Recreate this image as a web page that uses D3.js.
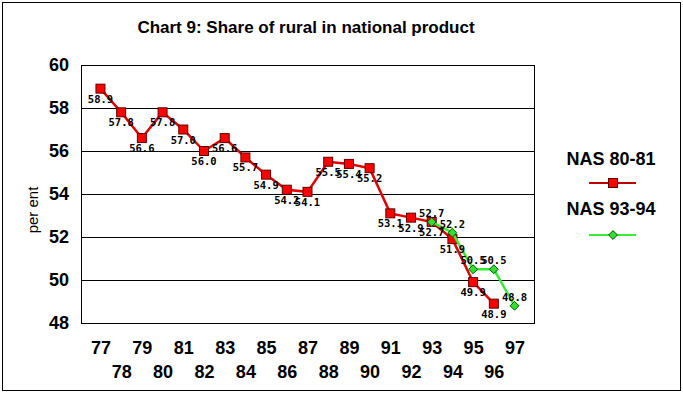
<!DOCTYPE html>
<html>
<head>
<meta charset="utf-8">
<script src="https://cdn.jsdelivr.net/npm/d3@7"></script>
<style>
  body { margin: 0; background: #fff; }
  text { font-family: "Liberation Sans", Arial, sans-serif; }
  text.lab { font-family: "DejaVu Sans Mono", monospace; }
</style>
</head>
<body>
<div id="the_chart"></div>
<script>
// years shown on the x axis (two-digit)
var years = ["77", "78", "79", "80", "81", "82", "83", "84", "85", "86", "87",
             "88", "89", "90", "91", "92", "93", "94", "95", "96", "97"];

// NAS 80-81 series, 1977 to 1996
var nas8081Years = ["77", "78", "79", "80", "81", "82", "83", "84", "85", "86",
                    "87", "88", "89", "90", "91", "92", "93", "94", "95", "96"];
var nas8081 = [58.9, 57.8, 56.6, 57.8, 57.0, 56.0, 56.6, 55.7, 54.9, 54.2,
               54.1, 55.5, 55.4, 55.2, 53.1, 52.9, 52.7, 51.9, 49.9, 48.9];

// NAS 93-94 series, 1993 to 1997
var nas9394Years = ["93", "94", "95", "96", "97"];
var nas9394 = [52.7, 52.2, 50.5, 50.5, 48.8];

var yTicks = [48, 50, 52, 54, 56, 58, 60];
var seriesNames = ["NAS 80-81", "NAS 93-94"];

var w = 683;
var h = 393;
var pLeft = 81, pRight = 534, pTop = 65, pBottom = 323;

var svg = d3.select("#the_chart")
    .append("svg")
    .attr("width", w)
    .attr("height", h);

svg.append("rect")
    .attr("x", 2.5).attr("y", 2.5)
    .attr("width", w - 5).attr("height", h - 5)
    .attr("fill", "#fff")
    .attr("stroke", "#000");

svg.append("text")
    .attr("x", 306)
    .attr("y", 33)
    .attr("text-anchor", "middle")
    .attr("font-size", 17)
    .attr("font-weight", "bold")
    .text("Chart 9: Share of rural in national product");

var xscale = d3.scalePoint()
    .domain(years)
    .range([pLeft, pRight])
    .padding(0.94);

var yscale = d3.scaleLinear()
    .domain([48, 60])
    .range([pBottom, pTop]);

// gridlines + y labels
var gY = svg.append("g")
    .attr("transform", "translate(" + pLeft + ",0)")
    .call(d3.axisLeft(yscale)
        .tickValues(yTicks)
        .tickSize(-(pRight - pLeft))
        .tickPadding(12)
        .tickFormat(d3.format("d")));
gY.select(".domain").remove();
gY.selectAll("line").attr("stroke", "#000");
gY.selectAll("text")
    .attr("font-size", 18)
    .attr("font-weight", "bold")
    .attr("fill", "#000");

svg.append("rect")
    .attr("x", pLeft + 0.5).attr("y", pTop + 0.5)
    .attr("width", pRight - pLeft).attr("height", pBottom - pTop)
    .attr("fill", "none")
    .attr("stroke", "#000");

// x labels, staggered over two rows
var gX = svg.append("g")
    .attr("transform", "translate(0," + pBottom + ")")
    .call(d3.axisBottom(xscale).tickSize(0).tickPadding(0));
gX.select(".domain").remove();
gX.selectAll("text")
    .attr("font-size", 18)
    .attr("font-weight", "bold")
    .attr("fill", "#000")
    .attr("dy", null)
    .attr("y", function (d, i) {
        return i % 2 == 0 ? 31 : 55;
    });

svg.append("text")
    .attr("transform", "translate(38,210) rotate(-90)")
    .attr("text-anchor", "middle")
    .attr("font-size", 15)
    .text("per ent");

var line = d3.line()
    .x(function (d) { return xscale(d.year); })
    .y(function (d) { return yscale(d.value); });

var red = nas8081.map(function (v, i) { return { year: nas8081Years[i], value: v }; });
var green = nas9394.map(function (v, i) { return { year: nas9394Years[i], value: v }; });

svg.append("path")
    .datum(red)
    .attr("d", line)
    .attr("fill", "none")
    .attr("stroke", "#e00000")
    .attr("stroke-width", 2.5);

svg.selectAll("rect.red")
    .data(red)
    .enter().append("rect")
    .attr("class", "red")
    .attr("x", function (d) { return xscale(d.year) - 4.5; })
    .attr("y", function (d) { return yscale(d.value) - 4.5; })
    .attr("width", 9)
    .attr("height", 9)
    .attr("fill", "#ff0000")
    .attr("stroke", "#600000");

svg.append("path")
    .datum(green)
    .attr("d", line)
    .attr("fill", "none")
    .attr("stroke", "#33ee33")
    .attr("stroke-width", 2.5);

var diamond = d3.symbol().type(d3.symbolDiamond2).size(50);

svg.selectAll("path.green")
    .data(green)
    .enter().append("path")
    .attr("class", "green")
    .attr("d", diamond)
    .attr("transform", function (d) {
        return "translate(" + xscale(d.year) + "," + yscale(d.value) + ")";
    })
    .attr("fill", "#33dd33")
    .attr("stroke", "#005500");

svg.selectAll("text.redlab")
    .data(red)
    .enter().append("text")
    .attr("class", "lab redlab")
    .attr("x", function (d) { return xscale(d.year); })
    .attr("y", function (d) { return yscale(d.value) + 14; })
    .attr("text-anchor", "middle")
    .attr("font-size", 10.5)
    .attr("font-weight", "bold")
    .text(function (d) { return d.value.toFixed(1); });

svg.selectAll("text.greenlab")
    .data(green)
    .enter().append("text")
    .attr("class", "lab greenlab")
    .attr("x", function (d) { return xscale(d.year); })
    .attr("y", function (d) { return yscale(d.value) - 5; })
    .attr("text-anchor", "middle")
    .attr("font-size", 10.5)
    .attr("font-weight", "bold")
    .text(function (d) { return d.value.toFixed(1); });

// legend
var lg = svg.append("g");
lg.selectAll("text")
    .data(seriesNames)
    .enter().append("text")
    .attr("x", 611)
    .attr("y", function (d, i) { return 165 + i * 50; })
    .attr("text-anchor", "middle")
    .attr("font-size", 18)
    .attr("font-weight", "bold")
    .text(function (d) { return d; });

lg.append("line")
    .attr("x1", 589).attr("x2", 636)
    .attr("y1", 183).attr("y2", 183)
    .attr("stroke", "#c00000").attr("stroke-width", 2);
lg.append("rect")
    .attr("x", 608.5).attr("y", 178.5)
    .attr("width", 9).attr("height", 9)
    .attr("fill", "#ff0000").attr("stroke", "#600000");
lg.append("line")
    .attr("x1", 589).attr("x2", 636)
    .attr("y1", 235).attr("y2", 235)
    .attr("stroke", "#33ee33").attr("stroke-width", 2);
lg.append("path")
    .attr("d", diamond)
    .attr("transform", "translate(613,235)")
    .attr("fill", "#33dd33").attr("stroke", "#005500");
</script>
</body>
</html>
